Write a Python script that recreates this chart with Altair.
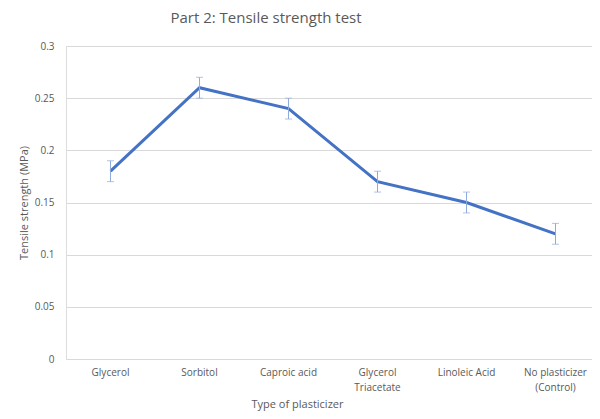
import altair as alt
import pandas as pd

categories = ["Glycerol", "Sorbitol", "Caproic acid", "Glycerol Triacetate", "Linoleic Acid", "No plasticizer (Control)"]
strength = [0.18, 0.26, 0.24, 0.17, 0.15, 0.12]
error = [0.01, 0.01, 0.01, 0.01, 0.01, 0.01]

df = pd.DataFrame({
    "cat": categories,
    "val": strength,
    "lo": [v - e for v, e in zip(strength, error)],
    "hi": [v + e for v, e in zip(strength, error)],
})

FONT = "Open Sans"
GRAY = "#595959"

label_expr = ("datum.value == 'Glycerol Triacetate' ? ['Glycerol', 'Triacetate'] : "
              "datum.value == 'No plasticizer (Control)' ? ['No plasticizer', '(Control)'] : datum.label")

xscale = alt.Scale(paddingInner=0, paddingOuter=0, range=[0, 534])
x = alt.X("cat:N", sort=categories, scale=xscale,
          axis=alt.Axis(title="Type of plasticizer", labelAngle=0, labelExpr=label_expr,
                        domain=False, ticks=False, labelPadding=8, labelFontSize=10,
                        labelColor=GRAY, titleColor=GRAY, titleFontSize=11,
                        titleFontWeight="normal", titleY=48, titleX=231,
                        titleBaseline="alphabetic",
                        labelLineHeight=15, labelFont=FONT, titleFont=FONT))
y = alt.Y("val:Q", scale=alt.Scale(domain=[0, 0.3]),
          axis=alt.Axis(title="Tensile strength (MPa)", values=[0, 0.05, 0.1, 0.15, 0.2, 0.25, 0.3],
                        format="~g", domain=False, ticks=False, labelPadding=12,
                        labelFontSize=10, labelColor=GRAY, titleColor=GRAY, titleFontSize=11,
                        titleFontWeight="normal", titlePadding=5, gridColor="#d9d9d9",
                        labelFont=FONT, titleFont=FONT))

xe = alt.X("cat:N", sort=categories)
base = alt.Chart(df)
line = base.mark_line(color="#4472C4", strokeWidth=3).encode(x=x, y=y)
rule = base.mark_rule(color="#8faadc", strokeWidth=1).encode(x=xe, y="lo:Q", y2="hi:Q")
cap_lo = base.mark_tick(color="#8faadc", thickness=1, size=7).encode(x=xe, y="lo:Q")
cap_hi = base.mark_tick(color="#8faadc", thickness=1, size=7).encode(x=xe, y="hi:Q")

chart = alt.layer(line, rule, cap_lo, cap_hi).properties(
    width=526, height=313,
    autosize=alt.AutoSizeParams(type="none"),
    padding={"left": 58, "top": 38, "right": 0, "bottom": 52},
    title=alt.TitleParams("Part 2: Tensile strength test", fontSize=15, fontWeight="normal",
                          color=GRAY, font=FONT, anchor="middle", dx=-63, offset=15),
).configure_view(stroke=None).configure(background="white")

chart.save("out.html", embed_options={"renderer": "svg", "actions": False})
